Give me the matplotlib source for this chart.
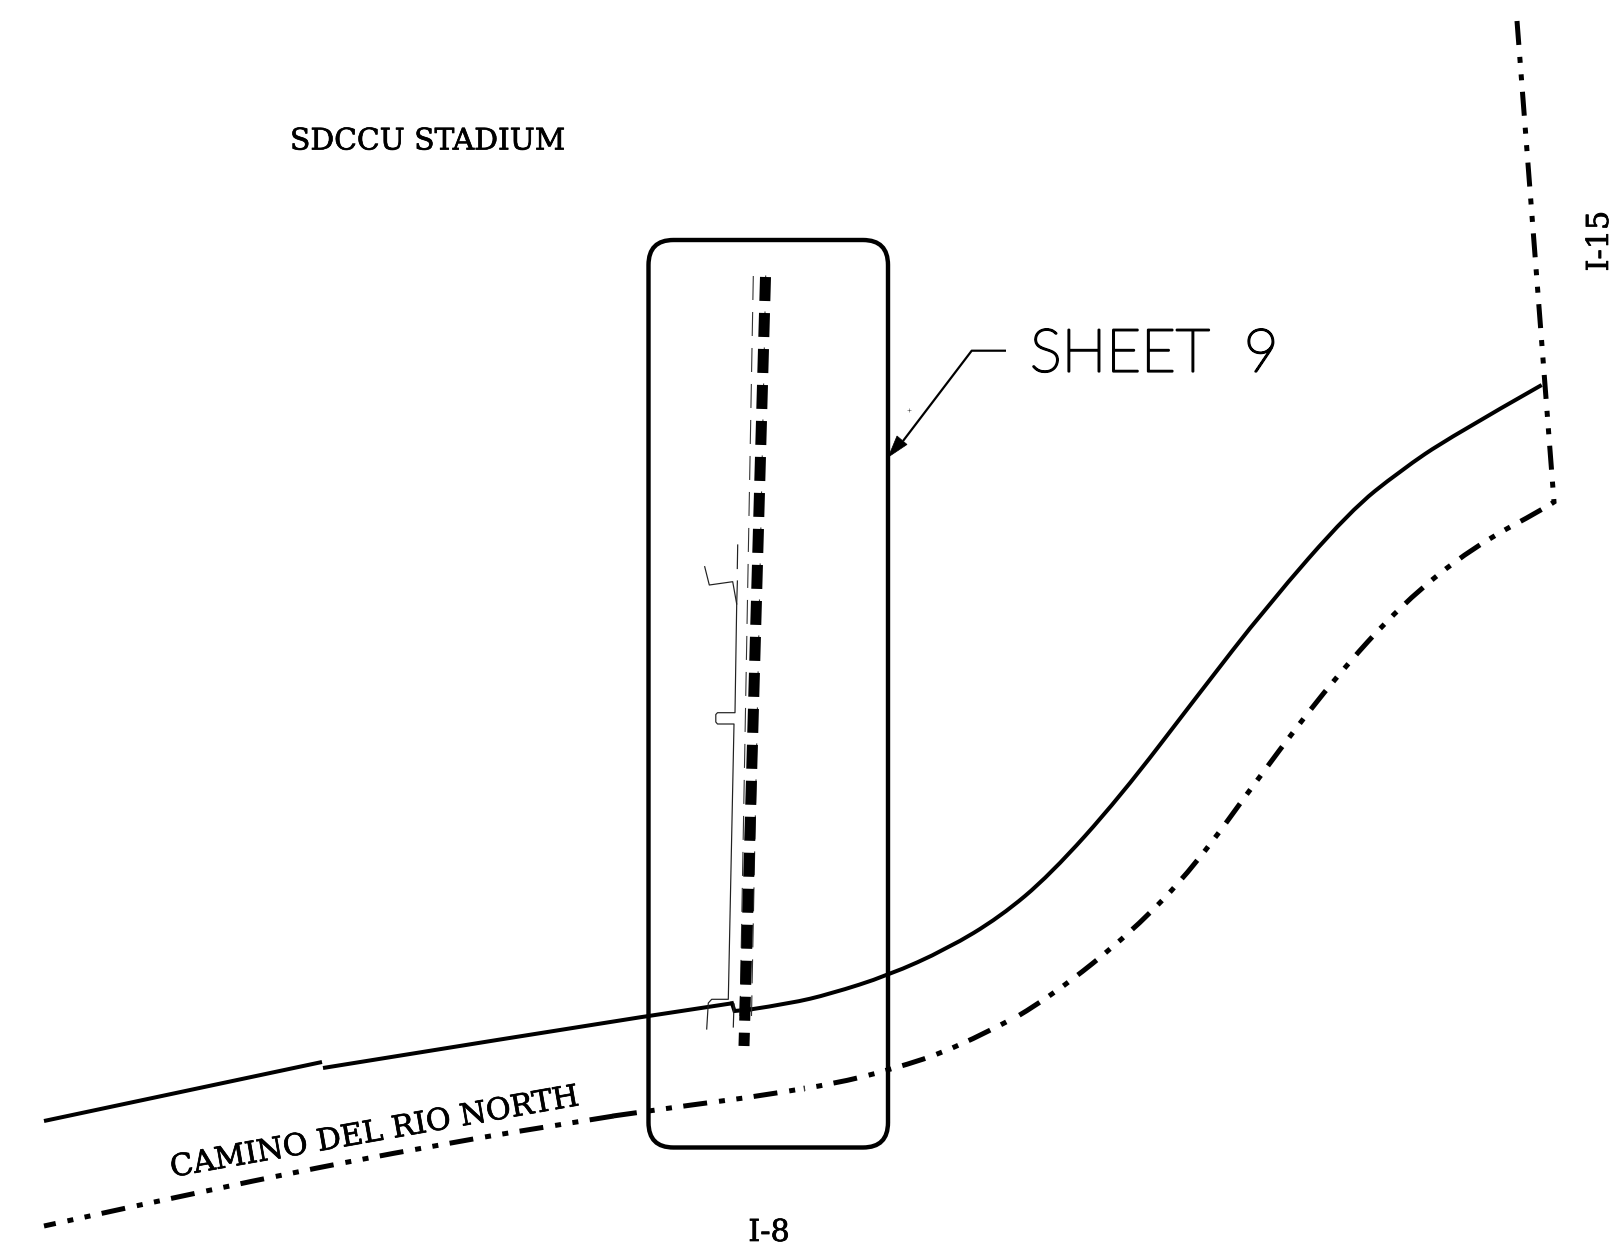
# Site key map for sheet 9: road edges, wall line and labels, in picture pixels
import matplotlib
matplotlib.use("Agg")
import matplotlib.pyplot as plt
import matplotlib.patheffects as pe
from matplotlib.path import Path
from matplotlib.patches import PathPatch, FancyBboxPatch, Polygon

plt.rcParams["lines.scale_dashes"] = False

WIDTH = 1613
HEIGHT = 1248
PX = 72 / 100  # points per pixel at dpi 100

road_north_x = [44, 322]
road_north_y = [1121, 1062]
road_mid_x = [323, 497, 640, 732]
road_mid_y = [1068, 1040, 1017.3, 1003.3]
road_jog_x = [732, 734.5, 750]
road_jog_y = [1003.3, 1011, 1009.5]
road_east_x = [750, 790, 830, 888, 947, 1000, 1050, 1120, 1198, 1267, 1350, 1400, 1450, 1541.7]
road_east_y = [1009.5, 1003.5, 994, 975.5, 949, 917, 875, 797, 695, 606, 511, 471, 437, 385]

# right of way: the drawing joins separate pieces, so each keeps its own dash phase
row_top_x = [1517, 1554]
row_top_y = [21, 502]
row_east_x = [1554, 1546.7, 1473, 1403, 1333, 1262, 1195, 1133, 1052, 1018]
row_east_y = [502, 507.3, 547, 603, 680, 773, 866, 931, 996, 1016]
row_mid_x = [804, 833, 890, 957, 1010]
row_mid_y = [1088.5, 1084, 1070, 1048, 1020]
row_box_x = [613, 707, 753, 804]
row_box_y = [1116, 1102.7, 1097, 1088.5]
row_west_x = [44, 239, 448, 589, 615]
row_west_y = [1226, 1183, 1142.7, 1120, 1115.8]

center_x = [765.5, 744]
center_y = [277, 1046]
thin_left_x = [753.3, 740]
thin_left_y = [276, 1016]
thin_right_x = [765.7, 751.5]
thin_right_y = [275.5, 1016]

wall_x = [704.7, 709.3, 732.7, 736.7, 735, 717.5, 715.8, 715.8, 717.5, 734, 728.3, 711.7, 708.3, 706.7]
wall_y = [566.7, 585, 581.7, 604, 712.7, 712.7, 714.5, 722, 724, 724, 999.3, 999.3, 1003, 1029]
wall_stub_x = [737.7, 737.3]
wall_stub_y = [545, 568.5]
wall_stub2_x = [737.4, 736.7]
wall_stub2_y = [581, 604]
wall_foot_x = [734, 733.3]
wall_foot_y = [1004, 1027]

leader_x = [1006, 971.7, 903]
leader_y = [350.7, 350.7, 441]
head_x = [888.3, 897, 907]
head_y = [457, 436, 444.5]


def smooth(xs, ys):
    # quadratic pieces through the midpoints, so the road edges have no corners
    verts = [(xs[0], ys[0])]
    codes = [Path.MOVETO]
    for i in range(1, len(xs) - 1):
        end = (xs[i + 1], ys[i + 1])
        if i < len(xs) - 2:
            end = ((xs[i] + xs[i + 1]) / 2, (ys[i] + ys[i + 1]) / 2)
        verts += [(xs[i], ys[i]), end]
        codes += [Path.CURVE3, Path.CURVE3]
    return Path(verts, codes)


def row_piece(path, offset=0):
    pattern = (offset * PX, (24 * PX, 12 * PX, 6 * PX, 11.5 * PX, 6 * PX, 11.5 * PX))
    ax.add_patch(PathPatch(path, fill=False, ec="black", lw=5 * PX, linestyle=pattern,
                           capstyle="butt", joinstyle="miter"))


fig = plt.figure(figsize=(WIDTH / 100, HEIGHT / 100), dpi=100)
ax = fig.add_axes([0, 0, 1, 1])
ax.set_xlim(0, WIDTH)
ax.set_ylim(HEIGHT, 0)
ax.axis("off")

road_lw = 4 * PX
ax.plot(road_north_x, road_north_y, color="black", lw=road_lw, solid_capstyle="butt")
ax.plot(road_mid_x, road_mid_y, color="black", lw=road_lw, solid_capstyle="butt")
ax.plot(road_jog_x, road_jog_y, color="black", lw=road_lw, solid_joinstyle="miter")
ax.add_patch(PathPatch(smooth(road_east_x, road_east_y), fill=False, ec="black", lw=road_lw, capstyle="butt"))

low = smooth(row_east_x, row_east_y)
row_piece(Path([(row_top_x[0], row_top_y[0])] + list(low.vertices),
               [Path.MOVETO, Path.LINETO] + list(low.codes[1:])))
row_piece(smooth(row_mid_x, row_mid_y), offset=41)
row_piece(smooth(row_box_x, row_box_y))
row_piece(smooth(row_west_x, row_west_y), offset=12)

ax.add_patch(FancyBboxPatch((648.5, 240), 239.5, 907.5, boxstyle="round,pad=0,rounding_size=25",
                            fill=False, ec="black", lw=4.4 * PX))

dash = (0, (24 * PX, 12 * PX))
ax.plot(thin_left_x, thin_left_y, color="#333333", lw=1.1 * PX, linestyle=dash, dash_capstyle="butt")
ax.plot(thin_right_x, thin_right_y, color="#333333", lw=1.1 * PX, linestyle=dash, dash_capstyle="butt")
ax.plot(center_x, center_y, color="black", lw=11 * PX, linestyle=dash, dash_capstyle="butt")

for xs, ys in [(wall_x, wall_y), (wall_stub_x, wall_stub_y), (wall_stub2_x, wall_stub2_y), (wall_foot_x, wall_foot_y)]:
    ax.plot(xs, ys, color="#222222", lw=1.2 * PX)

ax.plot(leader_x, leader_y, color="black", lw=2.2 * PX, solid_capstyle="butt")
ax.add_patch(Polygon(list(zip(head_x, head_y)), closed=True, fc="black", ec="black", lw=0.5))

# small stray marks on the original drawing
ax.plot([909.3], [410], marker="+", ms=3, mew=0.4, color="#555555")
ax.plot([804, 804.5], [1086, 1091], color="#444444", lw=0.7)

heavy = [pe.withStroke(linewidth=0.5, foreground="black")]
label_font = dict(family="DejaVu Serif", color="black", path_effects=heavy)
ax.text(290, 149.5, "SDCCU STADIUM", ha="left", va="baseline", fontsize=21.4, **label_font)
ax.text(172, 1177, "CAMINO DEL RIO NORTH", ha="left", va="baseline", rotation=10,
        rotation_mode="anchor", fontsize=21.8, **label_font)
ax.text(1600, 241, "I-15", ha="center", va="center", rotation=90, fontsize=21.8, **label_font)
ax.text(769, 1233, "I-8", ha="center", va="center", fontsize=21.8, **label_font)
ax.text(1030, 371.5, "SHEET  9", ha="left", va="baseline", family="Lato", weight="light",
        fontsize=43, color="black", path_effects=[pe.withStroke(linewidth=1.6, foreground="black")])

fig.savefig("out.png", dpi=100, facecolor="white")
